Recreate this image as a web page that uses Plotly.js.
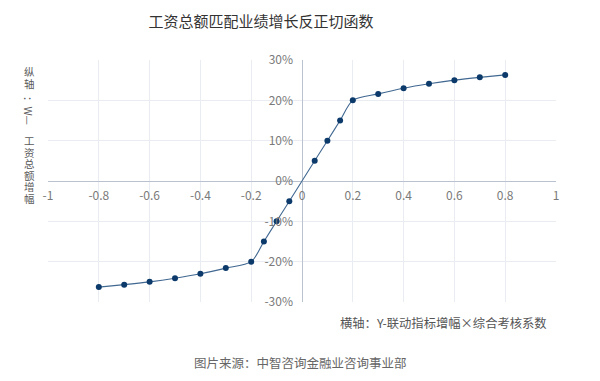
<!DOCTYPE html>
<html>
<head>
<meta charset="utf-8">
<script src="https://cdn.plot.ly/plotly-3.0.1.min.js"></script>
<style>html,body{margin:0;padding:0;background:#fff;}#chart{width:600px;height:381px;}</style>
</head>
<body>
<div id="chart"></div>
<script>
// Data
var xValues = [-0.8, -0.7, -0.6, -0.5, -0.4, -0.3, -0.2, -0.15, -0.1, -0.05, 0.05, 0.1, 0.15, 0.2, 0.3, 0.4, 0.5, 0.6, 0.7, 0.8];
var yValues = [-0.263, -0.257, -0.250, -0.241, -0.230, -0.216, -0.200, -0.150, -0.100, -0.050, 0.050, 0.100, 0.150, 0.200, 0.216, 0.230, 0.241, 0.250, 0.257, 0.263];
var xTickVals = [-1, -0.8, -0.6, -0.4, -0.2, 0, 0.2, 0.4, 0.6, 0.8, 1];
var xTickText = ['-1', '-0.8', '-0.6', '-0.4', '-0.2', '0', '0.2', '0.4', '0.6', '0.8', '1'];
var yTickVals = [-0.3, -0.2, -0.1, 0, 0.1, 0.2, 0.3];
var yTickText = ['-30%', '-20%', '-10%', '0%', '10%', '20%', '30%'];
var titleText = '工资总额匹配业绩增长反正切函数';
var xAxisLabel = '横轴：Y-联动指标增幅×综合考核系数';
var sourceText = '图片来源：中智咨询金融业咨询事业部';
var yLabelTop = ['纵', '轴'];
var yLabelMid = '：W—';
var yLabelBottom = ['工', '资', '总', '额', '增', '幅'];

var FONT = '"Noto Sans CJK SC", "Noto Sans", sans-serif';
var marginT = 60;

var trace = {
  x: xValues,
  y: yValues,
  type: 'scatter',
  mode: 'lines+markers',
  line: {color: '#416891', width: 1.1, shape: 'spline', smoothing: 0.8},
  marker: {color: '#0c3a6b', size: 6},
  hoverinfo: 'skip'
};

var annotations = [];
function pxAnno(text, px, py, opts) {
  var a = {
    text: text, xref: 'paper', yref: 'paper', x: 0, y: 1,
    xshift: px - 48, yshift: -(py - marginT),
    showarrow: false, xanchor: 'center', yanchor: 'middle',
    borderpad: 0,
    font: {family: FONT, size: 11, color: '#595959'}
  };
  for (var k in opts) a[k] = opts[k];
  annotations.push(a);
}
// vertical (upright) stacked label: line pitch set by a small base font, glyphs enlarged by span
function stack(chars) {
  return chars.map(function (c) { return '<span style="font-size:10.5px">' + c + '</span>'; }).join('<br>');
}
var stackFont = {family: FONT, size: 8.9, color: '#5a5a5a'};
pxAnno(stack(yLabelTop), 29, 77.5, {font: stackFont});
pxAnno(yLabelMid, 29, 110, {textangle: 90, font: {family: FONT, size: 10.5, color: '#5a5a5a'}});
pxAnno(stack(yLabelBottom), 29, 169.5, {font: stackFont});
pxAnno(xAxisLabel, 548, 323, {xanchor: 'right', font: {family: FONT, size: 12.3, color: '#555555'}});
pxAnno(sourceText, 300, 362, {font: {family: FONT, size: 12.5, color: '#666666'}});

var layout = {
  width: 600,
  height: 381,
  margin: {l: 48, r: 44, t: marginT, b: 79},
  paper_bgcolor: '#ffffff',
  plot_bgcolor: '#ffffff',
  showlegend: false,
  title: {
    text: titleText,
    x: 261 / 600, xref: 'container', xanchor: 'center',
    y: 1 - 21.5 / 381, yref: 'container', yanchor: 'middle',
    font: {family: FONT, size: 15, color: '#333333'}
  },
  xaxis: {
    range: [-1, 1],
    tickvals: xTickVals,
    ticktext: xTickText,
    anchor: 'free',
    position: 0.5,
    showgrid: true,
    gridcolor: '#e9ecf0',
    gridwidth: 1,
    zeroline: true,
    zerolinecolor: '#bac2cf',
    zerolinewidth: 1,
    showline: false,
    ticks: '',
    ticklabelstandoff: 6,
    tickfont: {family: FONT, size: 12, color: '#7a7a7a'},
    fixedrange: true
  },
  yaxis: {
    range: [-0.3, 0.3],
    tickvals: yTickVals,
    ticktext: yTickText,
    anchor: 'free',
    position: 0.5,
    showgrid: true,
    gridcolor: '#e9ecf0',
    gridwidth: 1,
    zeroline: true,
    zerolinecolor: '#bac2cf',
    zerolinewidth: 1,
    showline: false,
    ticks: '',
    ticklabelstandoff: 9,
    tickfont: {family: FONT, size: 12, color: '#7a7a7a'},
    fixedrange: true
  },
  annotations: annotations
};

Plotly.newPlot('chart', [trace], layout, {displayModeBar: false, staticPlot: true});
</script>
</body>
</html>
